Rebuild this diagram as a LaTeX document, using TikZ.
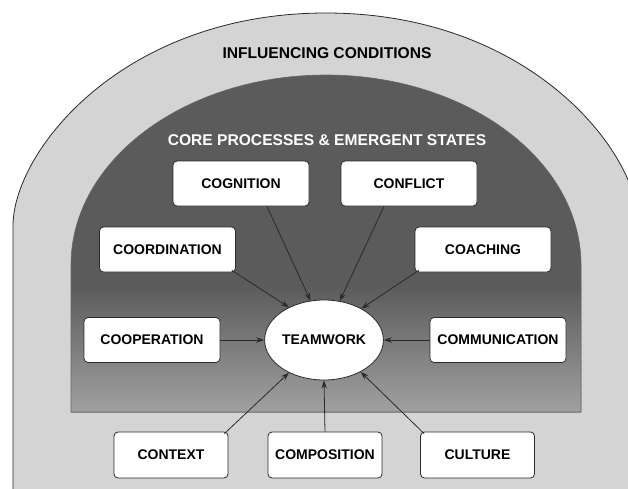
\documentclass[tikz,border=0pt]{standalone}
\usepackage{fontspec}
\setmainfont{Liberation Sans}
\usetikzlibrary{arrows.meta,shapes.geometric}
\definecolor{outerfill}{HTML}{D4D4D4}
\definecolor{innerdark}{HTML}{5B5B5B}
\definecolor{innerlight}{HTML}{A0A0A0}
\definecolor{edgec}{HTML}{2A2A2A}
\tikzset{
  box/.style={draw=edgec, line width=0.8pt, fill=white, rounded corners=4pt,
    minimum width=136pt, minimum height=45pt, inner sep=0pt,
    font=\fontsize{14}{16}\selectfont\bfseries},
  lowbox/.style={box, minimum width=114pt, minimum height=46pt},
  arr/.style={draw=edgec, line width=0.8pt, -{Stealth[length=8pt,width=5.5pt]}},
  titletext/.style={font=\fontsize{15.6}{18}\selectfont\bfseries, inner sep=0pt}
}
\begin{document}
\begin{tikzpicture}[x=1pt,y=-1pt]
\useasboundingbox (0,0) rectangle (628,488);
\clip (0,0) rectangle (628,488);
% outer arch
\path[fill=outerfill, draw=edgec, line width=0.8pt]
  (13,520) -- (13,226) .. controls (13,151.5) and (122.5,13) .. (326,13)
  .. controls (529.5,13) and (639,151.5) .. (639,226) -- (639,520) -- cycle;
% inner arch
\path[fill=innerdark]
  (71,412) -- (71,265) .. controls (71,160.1) and (185.2,75) .. (326,75)
  .. controls (466.8,75) and (581,160.1) .. (581,265) -- (581,412) -- cycle;
\shade[top color=innerdark, bottom color=innerlight] (71,285) rectangle (581,412);
\draw[draw=black!60, line width=0.6pt]
  (71,412) -- (71,265) .. controls (71,160.1) and (185.2,75) .. (326,75)
  .. controls (466.8,75) and (581,160.1) .. (581,265) -- (581,412) -- cycle;
% titles
\node[titletext, text=black] (t1) at (327,53) {INFLUENCING CONDITIONS};
\node[titletext, text=white] (t2) at (327,140) {CORE PROCESSES \& EMERGENT STATES};
% nodes
\node[box] (cog) at (241,183.5) {COGNITION};
\node[box] (con) at (409,183.5) {CONFLICT};
\node[box] (coord) at (167.5,249.5) {COORDINATION};
\node[box] (coach) at (483,249.5) {COACHING};
\node[box] (coop) at (152,340) {COOPERATION};
\node[box] (comm) at (498,340) {COMMUNICATION};
\node[ellipse, draw=edgec, line width=0.8pt, fill=white, minimum width=114pt,
  minimum height=80pt, inner sep=0pt, font=\fontsize{14}{16}\selectfont\bfseries]
  (tw) at (324,340) {TEAMWORK};
\node[lowbox] (ctx) at (171,455) {CONTEXT};
\node[lowbox] (comp) at (325,455) {COMPOSITION};
\node[lowbox] (cul) at (477.5,455) {CULTURE};
% connectors
\draw[arr] ([xshift=26pt]cog.south) -- (tw.109);
\draw[arr] ([xshift=-25pt]con.south) -- (tw.68);
\draw[arr] ([xshift=-4pt,yshift=2pt]coord.south east) -- (tw.137);
\draw[arr] ([xshift=4pt,yshift=2pt]coach.south west) -- (tw.40);
\draw[arr] (coop.east) -- (tw.west);
\draw[arr] (comm.west) -- (tw.east);
\draw[arr] ([xshift=-4pt,yshift=-2pt]ctx.north east) -- (tw.223);
\draw[arr] (comp.north) -- (tw.south);
\draw[arr] ([xshift=4pt,yshift=-2pt]cul.north west) -- (tw.319);
\end{tikzpicture}
\end{document}
